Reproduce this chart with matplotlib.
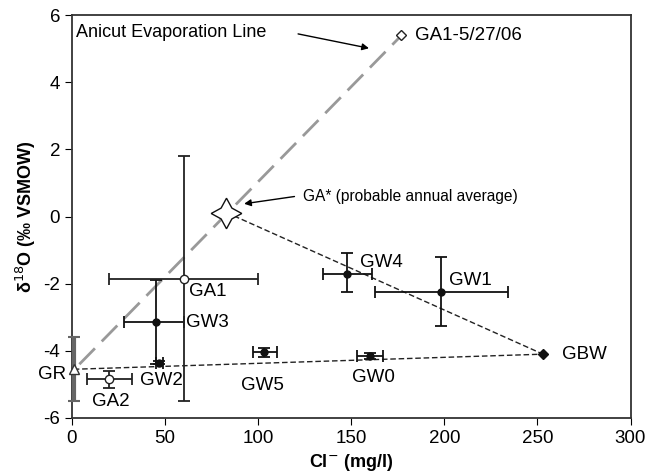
import numpy as np
import matplotlib.pyplot as plt

plt.rcParams['font.family'] = ['Liberation Sans', 'DejaVu Sans']
plt.rcParams['axes.unicode_minus'] = False

# filled samples (groundwater)
gw_names = ["GW0", "GW1", "GW2", "GW3", "GW4", "GW5"]
gw_cl = [160, 198, 47, 45, 148, 103]
gw_o = [-4.15, -2.25, -4.35, -3.15, -1.7, -4.05]
gw_cl_lo = [7, 35, 2, 17, 13, 6]
gw_cl_hi = [7, 36, 2, 15, 13, 7]
gw_o_lo = [0.08, 1.0, 0.05, 1.25, 0.55, 0.12]
gw_o_hi = [0.08, 1.05, 0.05, 1.25, 0.6, 0.12]

# open circles (anicut)
ga_names = ["GA1", "GA2"]
ga_cl = [60, 20]
ga_o = [-1.85, -4.85]
ga_cl_err = [40, 12]
ga_o_lo = [3.65, 0.25]
ga_o_hi = [3.65, 0.25]

# end members
gr_cl, gr_o, gr_o_lo, gr_o_hi = 1, -4.55, 0.95, 0.95
gbw_cl, gbw_o = 253, -4.1
ga_may_cl, ga_may_o = 177, 5.4
ga_star_cl, ga_star_o = 83, 0.12
evap_cl = [4, 177]
evap_o = [-4.4, 5.4]

fig, ax = plt.subplots(figsize=(6.48, 4.76), dpi=100)
fig.subplots_adjust(left=0.111, right=0.973, top=0.968, bottom=0.122)

# mixing lines
ax.plot([ga_star_cl, gbw_cl], [ga_star_o, gbw_o], color="#222222", ls=(0, (4, 2)), lw=1.0, zorder=2)
ax.plot([gr_cl, gbw_cl], [gr_o, gbw_o], color="#222222", ls=(0, (4, 2)), lw=1.0, zorder=2)
# evaporation line
ax.plot(evap_cl, evap_o, color="#999999", ls=(0, (8, 3.5)), lw=2.0, zorder=2)

ax.errorbar(gw_cl, gw_o, xerr=[gw_cl_lo, gw_cl_hi], yerr=[gw_o_lo, gw_o_hi],
            fmt='o', color="#111111", ms=5, capsize=4, elinewidth=1.3, capthick=1.3, zorder=4)
ax.errorbar(ga_cl, ga_o, xerr=ga_cl_err, yerr=[ga_o_lo, ga_o_hi],
            fmt='o', color="#222222", mfc="white", mec="#222222", ms=6, capsize=4,
            elinewidth=1.3, capthick=1.3, zorder=4)
ax.errorbar([gr_cl], [gr_o], yerr=[[gr_o_lo], [gr_o_hi]], fmt='^', color="#666666",
            mfc="white", mec="#333333", ms=7, capsize=4, elinewidth=3, capthick=1.5, zorder=4,
            clip_on=False)
ax.plot([gbw_cl], [gbw_o], 'D', color="#111111", ms=5, zorder=4)
ax.plot([ga_may_cl], [ga_may_o], 'D', mfc="white", mec="#222222", ms=5, zorder=4)
ax.plot([ga_star_cl], [ga_star_o], marker=(4, 1, 0), mfc="white", mec="#111111",
        ms=22, mew=1.0, ls='none', zorder=5)

# labels
fs = 13.5
ax.text(ga_may_cl + 7, ga_may_o, "GA1-5/27/06", fontsize=fs, va='center')
ax.text(63, -2.22, "GA1", fontsize=fs, va='center')
ax.text(61, -3.17, "GW3", fontsize=fs, va='center')
ax.text(36.5, -4.87, "GW2", fontsize=fs, va='center')
ax.text(10.7, -5.52, "GA2", fontsize=fs, va='center')
ax.text(-3, -4.72, "GR", fontsize=fs, va='center', ha='right')
ax.text(90.8, -5.02, "GW5", fontsize=fs, va='center')
ax.text(150.5, -4.81, "GW0", fontsize=fs, va='center')
ax.text(263, -4.12, "GBW", fontsize=fs, va='center')
ax.text(202.7, -1.89, "GW1", fontsize=fs, va='center')
ax.text(154.8, -1.36, "GW4", fontsize=fs, va='center')

ax.text(2, 5.5, "Anicut Evaporation Line", fontsize=13, va='center')
ax.annotate("", xy=(161, 5.0), xytext=(120, 5.46),
            arrowprops=dict(arrowstyle='-|>', color='black', lw=1.0, mutation_scale=10))
ax.text(124, 0.6, "GA* (probable annual average)", fontsize=11.2, va='center')
ax.annotate("", xy=(91, 0.37), xytext=(121, 0.61),
            arrowprops=dict(arrowstyle='-|>', color='black', lw=1.0, mutation_scale=10))

ax.set_xlim(0, 300)
ax.set_ylim(-6, 6)
ax.set_xticks(np.arange(0, 301, 50))
ax.set_yticks(np.arange(-6, 7, 2))
ax.tick_params(direction='out', labelsize=13.5, length=5, top=False, right=False)
for s in ax.spines.values():
    s.set_linewidth(1.3)
    s.set_color("#333333")
ax.set_xlabel("Cl$^{-}$ (mg/l)", fontsize=13, fontweight='bold')
ax.set_ylabel("δ$^{18}$O (‰ VSMOW)", fontsize=13, fontweight='bold')

plt.savefig("out.png", dpi=100)
